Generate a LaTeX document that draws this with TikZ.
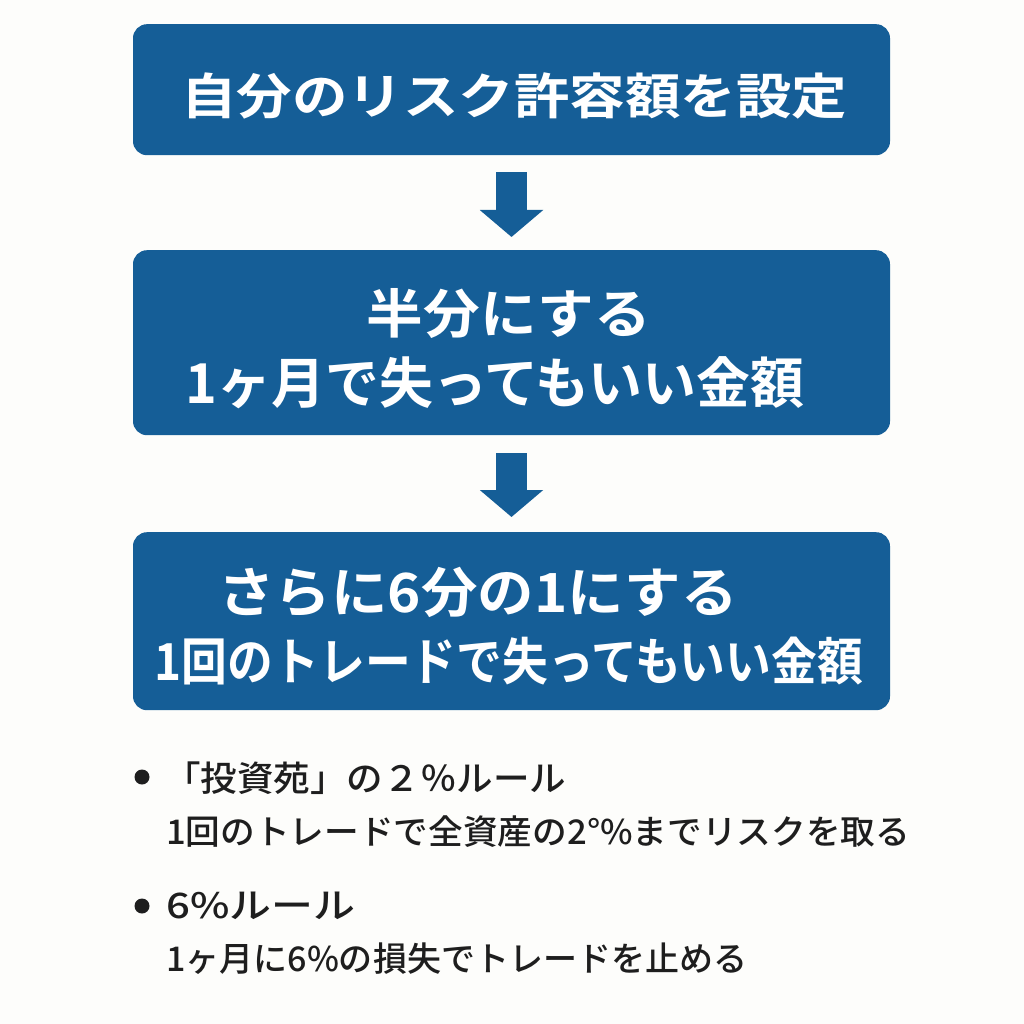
\documentclass[tikz,border=0pt]{standalone}
\usepackage{fontspec}
\usepackage{graphicx}
\usetikzlibrary{arrows.meta}
\newfontfamily\jp{Noto Sans CJK JP}
\newfontfamily\jpb{Noto Sans CJK JP}[UprightFont=* Bold]
\newfontfamily\jpm{Noto Sans CJK JP}[UprightFont=* Medium]
\definecolor{boxblue}{HTML}{155E97}
\definecolor{bgc}{HTML}{FDFDFB}
\definecolor{txt}{HTML}{1E1E1E}
\newcommand{\fitw}[3]{\resizebox{#1}{\height}{\fontsize{#2}{#2}\selectfont #3}}
\tikzset{
  flowbox/.style={fill=boxblue, draw=none, rounded corners=14pt, minimum width=757pt, inner sep=0pt, anchor=north},
  boxtext/.style={text=white, inner sep=0pt, font=\jpb},
  bultext/.style={text=txt, inner sep=0pt, anchor=west, font=\jpm},
  flowarrow/.style={draw=boxblue, line width=31pt, -{Triangle[width=62pt,length=27pt]}},
  dot/.style={circle, fill=txt, minimum size=15pt, inner sep=0pt}
}
\begin{document}
\begin{tikzpicture}[x=1pt,y=1pt]
\fill[bgc] (0,0) rectangle (1024,-1024);
\useasboundingbox (0,0) rectangle (1024,-1024);
% boxes
\node[flowbox, minimum height=131pt] (b1) at (511.5,-24) {};
\node[flowbox, minimum height=185pt] (b2) at (511.5,-250) {};
\node[flowbox, minimum height=178pt] (b3) at (511.5,-532) {};
% box texts
\node[boxtext] (t1) at (514,-96) {\fitw{666pt}{49}{自分のリスク許容額を設定}};
\node[boxtext] (t2a) at (509,-314) {\fitw{284pt}{53}{半分にする}};
\node[boxtext] (t2b) at (495,-383) {\fitw{618pt}{55}{1ヶ月で失ってもいい金額}};
\node[boxtext] (t3a) at (478,-592) {\fitw{519pt}{54}{さらに6分の1にする}};
\node[boxtext] (t3b) at (509,-661) {\fitw{708pt}{51}{1回のトレードで失ってもいい金額}};
% arrows
\coordinate (a1s) at ([yshift=-17pt]b1.south);
\coordinate (a1e) at ([yshift=13pt]b2.north);
\coordinate (a2s) at ([yshift=-18pt]b2.south);
\coordinate (a2e) at ([yshift=15pt]b3.north);
\draw[flowarrow] (a1s) -- (a1e);
\draw[flowarrow] (a2s) -- (a2e);
% bullets
\node[dot] (d1) at (142,-777) {};
\node[dot] (d2) at (142,-906) {};
\node[bultext] (l1) at (164,-778) {\fitw{402pt}{35}{「投資苑」の２％ルール}};
\node[bultext] (l2) at (166,-832) {\fitw{744pt}{34}{1回のトレードで全資産の2°\%までリスクを取る}};
\node[bultext] (l3) at (166,-906) {\fitw{189pt}{35}{6\%ルール}};
\node[bultext] (l4) at (166,-959) {\fitw{581pt}{34}{1ヶ月に6\%の損失でトレードを止める}};
\end{tikzpicture}
\end{document}
